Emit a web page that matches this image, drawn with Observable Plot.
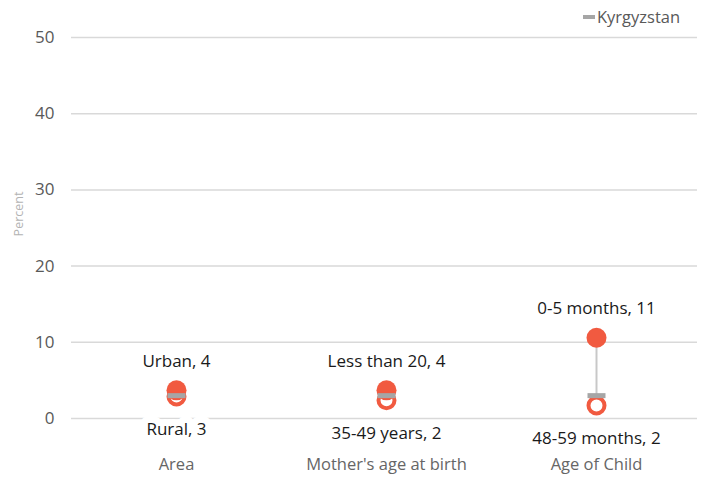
<!DOCTYPE html>
<html>
<head>
<meta charset="utf-8">
<script src="https://cdn.jsdelivr.net/npm/d3@7"></script>
<script src="https://cdn.jsdelivr.net/npm/@observablehq/plot@0.6"></script>
<style>
  html, body { margin: 0; padding: 0; background: #fff; }
  #wrap { position: relative; width: 702px; height: 481px; font-family: "Open Sans", "Liberation Sans", sans-serif; }
  #legend { position: absolute; top: 5px; left: 583px; font-size: 16.5px; color: #595959; display: flex; align-items: center; }
  #legend .sw { display: inline-block; width: 12px; height: 4px; background: #a6a6a6; margin-right: 2px; }
</style>
</head>
<body>
<div id="wrap">
  <div id="chart"></div>
  <div id="legend"><span class="sw"></span>Kyrgyzstan</div>
</div>
<script>
const categories = ["Area", "Mother's age at birth", "Age of Child"];
const highLabels = ["Urban", "Less than 20", "0-5 months"];
const highValues = [3.7, 3.7, 10.6];
const lowLabels = ["Rural", "35-49 years", "48-59 months"];
const lowValues = [2.9, 2.4, 1.7];
const nationalValue = 3.0;
const nationalName = "Kyrgyzstan";
const yTicks = [0, 10, 20, 30, 40, 50];

const rows = categories.map((c, i) => ({
  cat: c,
  hi: highValues[i], hiLabel: `${highLabels[i]}, ${Math.round(highValues[i])}`,
  lo: lowValues[i], loLabel: `${lowLabels[i]}, ${Math.round(lowValues[i])}`,
  nat: nationalValue
}));

const orange = "#f15a40";
const dash = { draw(ctx) { ctx.rect(-9, -2.5, 18, 5); } };
const font = "'Open Sans', 'Liberation Sans', sans-serif";

const chart = Plot.plot({
  width: 702,
  height: 481,
  marginTop: 37,
  marginBottom: 63,
  marginLeft: 71,
  marginRight: 1,
  style: { fontFamily: font, background: "#fff" },
  x: { type: "band", domain: categories, padding: 0, label: null },
  y: { domain: [0, 50], label: null },
  marks: [
    Plot.gridY(yTicks, { stroke: "#d9d9d9", strokeOpacity: 1, strokeWidth: 1.5, insetRight: 4 }),
    Plot.axisY(yTicks, { tickSize: 0, tickPadding: 17, fontSize: 17, fill: "#595959", label: null }),
    Plot.axisX({ tickSize: 0, tickPadding: 40, fontSize: 16.5, fill: "#666", label: null }),
    Plot.text(["Percent"], { frameAnchor: "left", textAnchor: "middle", dx: -53, dy: -14, rotate: -90, fontSize: 12.5, fill: "#b3b3b3" }),
    Plot.link(rows, { x: "cat", y1: "lo", y2: "hi", stroke: "#c8c8c8", strokeWidth: 2 }),
    Plot.dot(rows, { x: "cat", y: "lo", r: 8, stroke: orange, strokeWidth: 4, fill: "#fff" }),
    Plot.dot(rows, { x: "cat", y: "hi", r: 10, fill: orange }),
    Plot.dot(rows, { x: "cat", y: "nat", symbol: dash, fill: "#a6a6a6", stroke: "none" }),
    Plot.text(rows, { x: "cat", y: "hi", text: "hiLabel", dy: -29, fontSize: 17, fill: "#1a1a1a", stroke: "#fff", strokeWidth: 14, paintOrder: "stroke" }),
    Plot.text(rows, { x: "cat", y: "lo", text: "loLabel", dy: 33, fontSize: 17, fill: "#1a1a1a", stroke: "#fff", strokeWidth: 14, paintOrder: "stroke" })
  ]
});
document.getElementById("chart").appendChild(chart);
</script>
</body>
</html>
